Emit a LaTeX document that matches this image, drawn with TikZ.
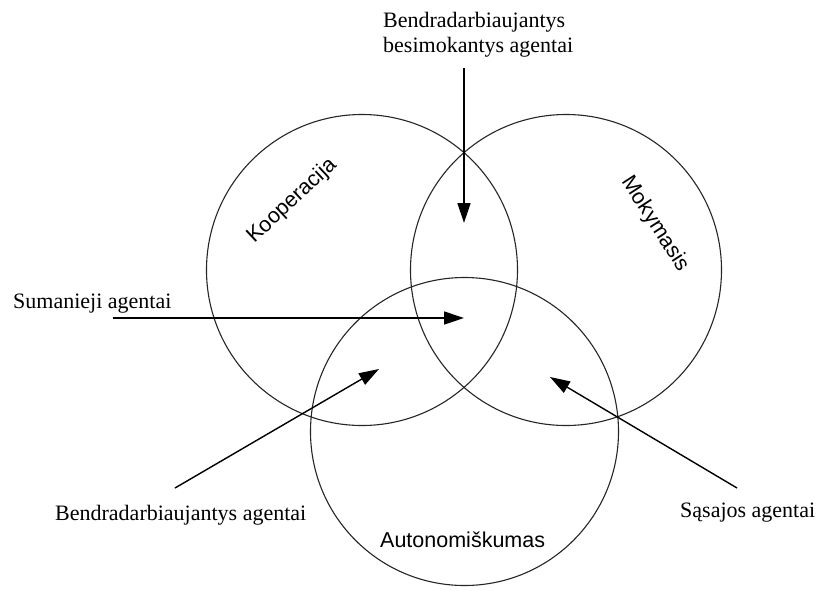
\documentclass[tikz,border=0pt]{standalone}
\usepackage{fontspec}
\setmainfont{Liberation Serif}
\newfontfamily\arialfont{Liberation Sans}
\usetikzlibrary{arrows.meta}
\begin{document}
\begin{tikzpicture}[x=1pt,y=-1pt,
  setcircle/.style={draw=black!85,line width=1.1pt},
  pointer/.style={draw=black,line width=1.4pt,-{Triangle[length=20pt,width=13pt]}},
  caption/.style={inner sep=0pt,font=\fontsize{22}{25}\selectfont},
  setname/.style={inner sep=0pt,font=\arialfont\fontsize{21.5}{24}\selectfont}]
\useasboundingbox (0,0) rectangle (820,590);
\fill[white] (0,0) rectangle (820,590);

% the three sets
\draw[setcircle] (362,270) circle[radius=155.5];
\draw[setcircle] (566,270) circle[radius=155.5];
\draw[setcircle] (464.5,431.5) circle[radius=154];

% set names
\node[setname,rotate=43] (koop) at (292,201) {Kooperacija};
\node[setname,rotate=-57] (mok) at (655,224) {Mokymasis};
\node[setname,anchor=base west] (auto) at (380,547) {Autonomiškumas};

% agent types
\node[caption,anchor=base west] (bbl1) at (383,27) {Bendradarbiaujantys};
\node[caption,anchor=base west] (bbl2) at (383,52) {besimokantys agentai};
\node[caption,anchor=base west] (suma) at (13,308) {Sumanieji agentai};
\node[caption,anchor=base west] (bend) at (55,520) {Bendradarbiaujantys agentai};
\node[caption,anchor=base west] (sasa) at (680,517) {Sąsajos agentai};

% pointer ends
\coordinate (bblS) at (464,68);
\coordinate (bblT) at (464,223);
\coordinate (sumaS) at (113,318);
\coordinate (sumaT) at (464,318);
\coordinate (bendS) at (175,488);
\coordinate (bendT) at (379,369);
\coordinate (sasaS) at (737,488);
\coordinate (sasaT) at (550,377);

\draw[pointer] (bblS) -- (bblT);
\draw[pointer] (sumaS) -- (sumaT);
\draw[pointer] (bendS) -- (bendT);
\draw[pointer] (sasaS) -- (sasaT);
\end{tikzpicture}
\end{document}
